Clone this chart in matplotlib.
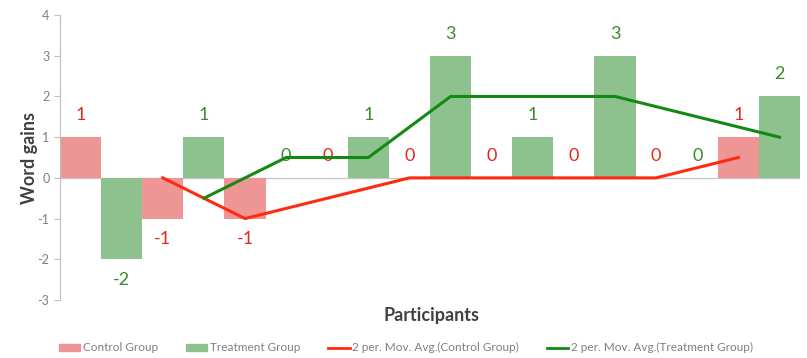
import numpy as np
import pandas as pd
from matplotlib import pyplot as plt
from matplotlib.patches import Patch
from matplotlib.lines import Line2D

plt.rcParams['font.family'] = ['Lato', 'DejaVu Sans']
plt.rcParams['axes.unicode_minus'] = False

participants = np.arange(9)
control = [1, -1, -1, 0, 0, 0, 0, 0, 1]
treatment = [-2, 1, 0, 1, 3, 1, 3, 0, 2]

ctrl_col = '#EE9696'
treat_col = '#8DC28F'
ctrl_line = '#FF2A10'
treat_line = '#128A12'

# 2 period moving averages (like excel trendline)
ctrl_ma = pd.Series(control).rolling(2).mean()
treat_ma = pd.Series(treatment).rolling(2).mean()

fig = plt.figure(figsize=(8.07, 3.58), dpi=100)
ax = fig.add_axes([0.0744, 0.162, 0.917, 0.796])

w = 0.5
xc = participants - w / 2
xt = participants + w / 2
ax.axhline(0, color='#C8C8C8', lw=1, zorder=1)
ax.bar(xc, control, width=w, color=ctrl_col, zorder=2)
ax.bar(xt, treatment, width=w, color=treat_col, zorder=2)

ax.plot(xc[1:], ctrl_ma[1:], color=ctrl_line, lw=2.2, zorder=4)
ax.plot(xt[1:], treat_ma[1:], color=treat_line, lw=2.2, zorder=4)

# data labels
def put_labels(xs, vals, col):
    for x, v in zip(xs, vals):
        if v >= 0:
            ax.annotate(str(v), (x, v), xytext=(0, 16), textcoords='offset points',
                        ha='center', va='center', color=col, fontsize=13, zorder=3)
        else:
            ax.annotate('-' + str(abs(v)), (x, v), xytext=(0, -15), textcoords='offset points',
                        ha='center', va='center', color=col, fontsize=13, zorder=3)

put_labels(xc, control, '#E0281E')
put_labels(xt, treatment, '#3A8A2A')

ax.set_xlim(-0.5, 8.5)
ax.set_ylim(-3, 4)
ax.set_yticks(range(-3, 5))
ax.set_xticks([])
for s in ['top', 'right', 'bottom']:
    ax.spines[s].set_visible(False)
ax.spines['left'].set_color('#BFBFBF')
ax.tick_params(axis='y', colors='#BFBFBF', labelcolor='#7F7F7F', labelsize=9, length=4)

ax.set_ylabel('Word gains', fontsize=13, fontweight='bold', color='#404040', labelpad=0)
fig.text(0.535, 0.118, 'Participants', fontsize=13, fontweight='bold', color='#404040',
         ha='center', va='center')

handles = [Patch(color=ctrl_col), Patch(color=treat_col),
           Line2D([], [], color=ctrl_line, lw=2), Line2D([], [], color=treat_line, lw=2)]
names = ['Control Group', 'Treatment Group',
         '2 per. Mov. Avg.(Control Group)', '2 per. Mov. Avg.(Treatment Group)']
leg = fig.legend(handles, names, loc='center', bbox_to_anchor=(0.503, 0.028), ncol=4,
                 frameon=False, fontsize=8.5, handlelength=1.8, handleheight=0.6,
                 handletextpad=0.2, columnspacing=2.4)
for t in leg.get_texts():
    t.set_color('#7F7F7F')

plt.savefig('out.png', dpi=100)
